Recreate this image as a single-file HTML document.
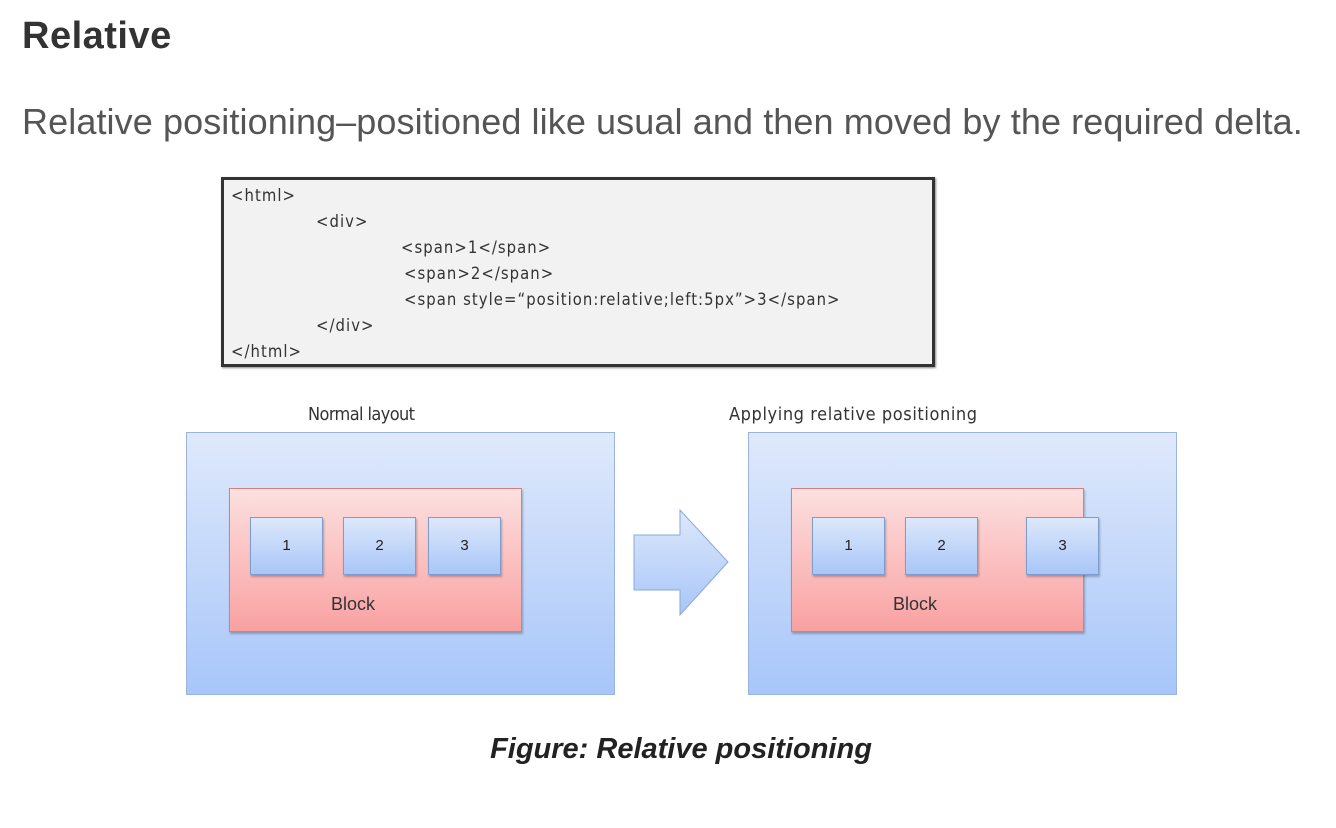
<!DOCTYPE html>
<html><head><meta charset="utf-8"><style>
body{margin:0;width:1336px;height:828px;background:#fff;position:relative;font-family:"Liberation Sans",sans-serif;overflow:hidden}
.a{position:absolute}
.code{left:221px;top:177px;width:708px;height:184px;border:3px solid #333;background:#f2f2f2;box-shadow:1px 1px 2px #888}
.code div{position:absolute;font-size:16.5px;color:#333;font-family:"DejaVu Sans Condensed","Liberation Sans",sans-serif;white-space:nowrap;line-height:16px;letter-spacing:1.05px}
.outer{width:429px;height:263px;top:432px;border:1px solid #9ab4dc;background:linear-gradient(#dfe9fb,#a8c6fa);box-sizing:border-box}
.blk{width:293px;height:144px;top:488px;border:1px solid #d57f7f;background:linear-gradient(#fde0e0,#f9a1a1);box-sizing:border-box;box-shadow:1px 2px 2px rgba(0,0,0,.25)}
.bx{width:73px;height:58px;top:517px;border:1px solid #7e9ccc;background:linear-gradient(#dde8fb,#a8c6f8);box-sizing:border-box;box-shadow:1px 2px 2px rgba(0,0,0,.25);text-align:center;line-height:56px;font-size:15px;color:#222}
.lbl{font-size:18px;color:#333;font-family:"DejaVu Sans Condensed","Liberation Sans",sans-serif;letter-spacing:-0.3px;white-space:nowrap}
</style></head><body>
<div class="a" style="left:22px;top:15px;font-size:38px;font-weight:bold;color:#333;letter-spacing:0.5px">Relative</div>
<div class="a" style="left:22px;top:101px;font-size:36px;color:#555;white-space:nowrap;letter-spacing:0.1px">Relative positioning–positioned like usual and then moved by the required delta.</div>
<div class="a code">
<div style="left:7px;top:8px">&lt;html&gt;</div>
<div style="left:92px;top:34px">&lt;div&gt;</div>
<div style="left:177px;top:60px">&lt;span&gt;1&lt;/span&gt;</div>
<div style="left:180px;top:86px">&lt;span&gt;2&lt;/span&gt;</div>
<div style="left:180px;top:112px">&lt;span style=“position:relative;left:5px”&gt;3&lt;/span&gt;</div>
<div style="left:92px;top:138px">&lt;/div&gt;</div>
<div style="left:7px;top:164px">&lt;/html&gt;</div>
</div>
<div class="a lbl" style="left:308px;top:404px;letter-spacing:-0.6px">Normal layout</div>
<div class="a lbl" style="left:729px;top:404px;letter-spacing:0.6px">Applying relative positioning</div>
<div class="a outer" style="left:186px"></div>
<div class="a blk" style="left:229px"></div>
<div class="a bx" style="left:250px">1</div>
<div class="a bx" style="left:343px">2</div>
<div class="a bx" style="left:428px">3</div>
<div class="a" style="left:331px;top:594px;font-size:18px;color:#333">Block</div>
<svg class="a" style="left:630px;top:505px" width="105" height="115"><defs><linearGradient id="g" x1="0" y1="0" x2="0" y2="1"><stop offset="0" stop-color="#dde8fb"/><stop offset="1" stop-color="#a8c6f8"/></linearGradient></defs><polygon points="4,30 50,30 50,5 98,57 50,110 50,85 4,85" fill="url(#g)" stroke="#8aa8d6" stroke-width="1"/></svg>
<div class="a outer" style="left:748px"></div>
<div class="a blk" style="left:791px"></div>
<div class="a bx" style="left:812px">1</div>
<div class="a bx" style="left:905px">2</div>
<div class="a bx" style="left:1026px">3</div>
<div class="a" style="left:893px;top:594px;font-size:18px;color:#333">Block</div>
<div class="a" style="left:0;width:1362px;text-align:center;top:733px;font-size:29px;font-weight:bold;font-style:italic;color:#222">Figure: Relative positioning</div>
</body></html>
